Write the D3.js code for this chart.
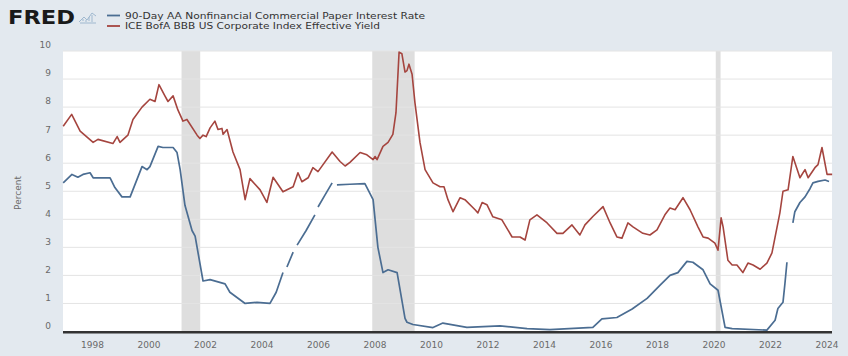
<!DOCTYPE html>
<html><head><meta charset="utf-8">
<script src="https://cdn.jsdelivr.net/npm/d3@7"></script>
<style>html,body{margin:0;padding:0;background:#e3e9ef;}svg{display:block;}</style>
</head><body><svg id="c" width="848" height="356"></svg>
<script>
// ---- data (decimal years) ----
const seriesNames = ["90-Day AA Nonfinancial Commercial Paper Interest Rate", "ICE BofA BBB US Corporate Index Effective Yield"];
const yTicks = [0,1,2,3,4,5,6,7,8,9,10];
const xTicks = [1998,2000,2002,2004,2006,2008,2010,2012,2014,2016,2018,2020,2022,2024];
const recessions = [[2001.17,2001.83],[2007.92,2009.42],[2020.08,2020.25]];

const cpYears = [1996.98,1997.29,1997.50,1997.68,1997.93,1998.04,1998.64,1998.81,1999.06,1999.35,1999.77,1999.95,2000.05,2000.34,2000.51,2000.87,2001.01,2001.12,2001.29,2001.54,2001.65,2001.93,2002.18,2002.71,2002.88,2003.42,2003.84,2004.30,2004.52,2004.76,2004.83,2004.90,2005.12,2005.19,2005.26,2005.58,2005.89,2005.95,2006.00,2006.25,2006.50,2006.58,2006.67,2007.13,2007.66,2007.95,2008.12,2008.30,2008.48,2008.80,2009.08,2009.15,2009.36,2010.07,2010.42,2011.27,2012.44,2013.40,2014.21,2015.73,2016.05,2016.58,2017.12,2017.65,2018.11,2018.46,2018.74,2019.06,2019.27,2019.63,2019.88,2020.16,2020.41,2020.66,2021.89,2022.18,2022.28,2022.46,2022.53,2022.60,2022.67,2022.81,2022.88,2023.06,2023.24,2023.42,2023.52,2023.70,2023.95,2024.09];
const cpValues = [5.3,5.6,5.5,5.6,5.66,5.48,5.48,5.13,4.8,4.8,5.88,5.77,5.88,6.6,6.56,6.56,6.38,5.77,4.5,3.6,3.4,1.8,1.85,1.7,1.4,1.0,1.04,1.0,1.4,2.1,null,2.3,2.83,null,3.08,3.6,4.16,null,4.44,4.87,5.3,null,5.23,5.25,5.27,4.7,3.0,2.1,2.2,2.1,0.47,0.33,0.25,0.14,0.3,0.15,0.2,0.1,0.07,0.15,0.45,0.5,0.8,1.18,1.65,2.0,2.1,2.5,2.47,2.2,1.7,1.47,0.15,0.1,0.05,0.4,0.82,1.04,1.72,2.47,null,3.87,4.27,4.6,4.8,5.1,5.3,5.35,5.4,5.35];

const bbbYears = [1996.98,1997.28,1997.58,1998.04,1998.21,1998.74,1998.89,1998.99,1999.27,1999.45,1999.77,2000.05,2000.23,2000.37,2000.58,2000.69,2000.87,2001.04,2001.22,2001.36,2001.72,2001.82,2001.93,2002.04,2002.18,2002.35,2002.46,2002.60,2002.64,2002.78,2002.99,2003.24,2003.42,2003.59,2003.95,2004.19,2004.41,2004.76,2005.12,2005.29,2005.43,2005.65,2005.82,2006.00,2006.50,2006.78,2006.96,2007.13,2007.49,2007.73,2007.95,2008.02,2008.09,2008.30,2008.48,2008.65,2008.76,2008.87,2008.97,2009.08,2009.15,2009.22,2009.33,2009.43,2009.61,2009.79,2010.07,2010.32,2010.46,2010.60,2010.78,2011.03,2011.20,2011.56,2011.66,2011.81,2011.98,2012.19,2012.51,2012.87,2013.15,2013.33,2013.50,2013.75,2014.11,2014.46,2014.67,2014.99,2015.27,2015.45,2015.73,2016.09,2016.34,2016.58,2016.76,2016.97,2017.15,2017.50,2017.75,2018.00,2018.28,2018.46,2018.64,2018.92,2019.17,2019.45,2019.63,2019.81,2020.05,2020.16,2020.27,2020.34,2020.51,2020.66,2020.83,2021.04,2021.22,2021.40,2021.65,2021.89,2022.07,2022.35,2022.46,2022.64,2022.81,2023.06,2023.24,2023.35,2023.59,2023.70,2023.84,2024.02,2024.20];
const bbbValues = [7.32,7.74,7.14,6.74,6.85,6.7,6.95,6.74,7.0,7.56,8.0,8.28,8.2,8.8,8.4,8.2,8.4,7.9,7.5,7.56,7.0,6.88,7.0,6.95,7.26,7.5,7.2,7.24,7.03,7.2,6.4,5.77,4.7,5.45,5.05,4.6,5.5,4.98,5.16,5.66,5.34,5.48,5.84,5.7,6.4,6.06,5.9,6.03,6.38,6.3,6.13,6.24,6.13,6.6,6.74,7.03,7.8,9.96,9.9,9.25,9.3,9.53,9.17,8.17,6.74,5.77,5.3,5.16,5.16,4.7,4.27,4.77,4.7,4.34,4.23,4.6,4.52,4.09,3.98,3.37,3.37,3.26,3.98,4.16,3.87,3.5,3.5,3.8,3.44,3.8,4.1,4.45,3.87,3.37,3.33,3.87,3.73,3.5,3.44,3.62,4.16,4.4,4.34,4.77,4.34,3.73,3.37,3.33,3.15,2.9,4.05,3.73,2.54,2.37,2.37,2.1,2.44,2.37,2.22,2.44,2.8,4.23,5.0,5.05,6.24,5.48,5.77,5.48,5.84,5.95,6.56,5.6,5.6];

const colors = ["#4b6d92", "#a5453f"];

// ---- layout ----
const svg = d3.select("#c");
const x = d3.scaleLinear().domain([1996.973, 2024.195]).range([63, 832]);
const y = d3.scaleLinear().domain([0, 10]).range([331.5, 51]);

svg.append("rect").attr("width",848).attr("height",356).attr("fill","#e3e9ef");
svg.append("rect").attr("x",x.range()[0]).attr("y",y(10)).attr("width",x.range()[1]-x.range()[0]).attr("height",y(0)-y(10)).attr("fill","#ffffff");

// recessions
svg.selectAll("rect.rec").data(recessions).enter().append("rect").attr("class","rec")
  .attr("x",d=>x(d[0])).attr("width",d=>Math.max(1.5,x(d[1])-x(d[0])))
  .attr("y",y(10)).attr("height",y(0)-y(10)).attr("fill","#dedede");

// gridlines
svg.selectAll("line.grid").data(yTicks.filter(t=>t>0)).enter().append("line").attr("class","grid")
  .attr("x1",x.range()[0]).attr("x2",x.range()[1]).attr("y1",d=>y(d)).attr("y2",d=>y(d))
  .attr("stroke","#e4e4e4").attr("stroke-width",1);

// y axis labels
const yAxis = d3.axisLeft(y).tickValues(yTicks).tickSize(0).tickPadding(0).tickFormat(d3.format("d"));
const gy = svg.append("g").attr("transform","translate(51,-6)").call(yAxis);
gy.select(".domain").remove();
gy.selectAll("text").attr("font-family","DejaVu Sans").attr("font-size",9).attr("fill","#6a6a6a");

// x axis labels
const xAxis = d3.axisBottom(x).tickValues(xTicks).tickSize(0).tickPadding(0).tickFormat(d3.format("d"));
const gx = svg.append("g").attr("transform","translate(0,342)").call(xAxis);
gx.select(".domain").remove();
gx.selectAll("text").attr("font-family","DejaVu Sans").attr("font-size",9).attr("fill","#6a6a6a");

// y title
svg.append("text").attr("transform","translate(21,193) rotate(-90)").attr("text-anchor","middle")
  .attr("font-family","DejaVu Sans").attr("font-size",9).attr("fill","#6a6a6a").text("Percent");

// lines
const line = d3.line().defined(d=>d[1]!=null).x(d=>x(d[0])).y(d=>y(d[1]));
const cpData = d3.zip(cpYears, cpValues);
const bbbData = d3.zip(bbbYears, bbbValues);
svg.append("path").datum(bbbData).attr("d",line).attr("fill","none").attr("stroke",colors[1]).attr("stroke-width",1.6).attr("stroke-linejoin","round");
svg.append("path").datum(cpData).attr("d",line).attr("fill","none").attr("stroke",colors[0]).attr("stroke-width",1.7).attr("stroke-linejoin","round");

// baseline
svg.append("line").attr("x1",x.range()[0]).attr("x2",x.range()[1]).attr("y1",y(0)+0.8).attr("y2",y(0)+0.8)
  .attr("stroke","#333").attr("stroke-width",2.5);

// logo
svg.append("text").attr("x",8).attr("y",23.5).attr("font-family","DejaVu Sans").attr("font-weight","bold")
  .attr("font-size",19).attr("textLength",67).attr("lengthAdjust","spacingAndGlyphs").attr("fill","#1a1a1a").text("FRED");
const icon = svg.append("g").attr("fill","none").attr("stroke","#9fb8cf").attr("stroke-width",1);
icon.append("path").attr("d","M79,22 L84,17 L87,20 L92,13 L96,16");
icon.append("path").attr("d","M80,23 L96,23");
icon.append("path").attr("d","M83,21 L83,19 M86,22 L86,20 M89,21 L89,17 M92,22 L92,15");

// legend
const leg = svg.append("g");
seriesNames.forEach((name,i)=>{
  const yy = 15.5 + i*10.5;
  leg.append("line").attr("x1",107).attr("x2",120).attr("y1",yy).attr("y2",yy).attr("stroke",colors[i]).attr("stroke-width",1.8);
  leg.append("text").attr("x",125).attr("y",yy+3).attr("font-family","DejaVu Sans").attr("font-size",8.5)
    .attr("textLength", i===0?300:255).attr("lengthAdjust","spacingAndGlyphs").attr("fill","#333").text(name);
});
</script></body></html>
